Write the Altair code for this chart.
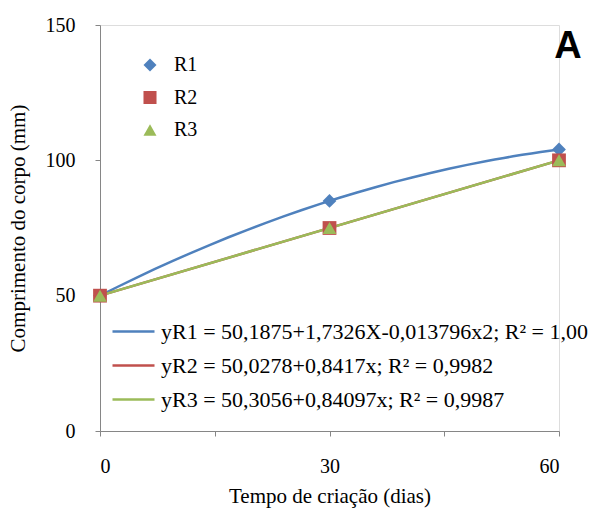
import altair as alt
import pandas as pd

dias = [0, 30, 60]
r1 = [50, 85, 104]
r2 = [50, 75, 100]
r3 = [50, 75, 100]
series = ["R1", "R2", "R3"]
equations = [
    "yR1 = 50,1875+1,7326X-0,013796x2; R² = 1,00",
    "yR2 = 50,0278+0,8417x; R² = 0,9982",
    "yR3 = 50,3056+0,84097x; R² = 0,9987",
]
colors = ["#4F81BD", "#C0504D", "#9BBB59"]
shapes = ["diamond", "square", "triangle-up"]

rows = []
for s, eq, vals in zip(series, equations, [r1, r2, r3]):
    for d, v in zip(dias, vals):
        rows.append({"dias": d, "comp": v, "serie": s, "eq": eq})
df = pd.DataFrame(rows)

FONT = "Liberation Serif"
GRAY = "#868686"
FS = 20

xscale = alt.Scale(domain=[0, 60], nice=False, zero=False)
yscale = alt.Scale(domain=[0, 150], nice=False)

xaxis = alt.Axis(values=[0, 15, 30, 45, 60], labelExpr="datum.value % 30 == 0 ? datum.label : ''",
                 title="Tempo de criação (dias)", grid=False, domainColor=GRAY, tickColor=GRAY,
                 tickSize=5, labelPadding=20, titlePadding=9, labelFont=FONT, titleFont=FONT,
                 labelFontSize=FS, titleFontSize=21, titleFontWeight="normal", labelColor="black",
                 titleColor="black")
yaxis = alt.Axis(values=[0, 50, 100, 150], title="Comprimento do corpo (mm)", grid=False,
                 domainColor=GRAY, tickColor=GRAY, tickSize=5, labelPadding=20, titlePadding=17,
                 labelFont=FONT, titleFont=FONT, labelFontSize=FS, titleFontSize=21,
                 titleFontWeight="normal", labelColor="black", titleColor="black")

stroke_scale = alt.Scale(domain=equations, range=colors)
line_legend = alt.Legend(title=None, orient="none", legendX=11, legendY=284, symbolType="stroke",
                         symbolSize=1764, symbolStrokeWidth=2.5, labelFont=FONT, labelFontSize=22,
                         labelColor="black", rowPadding=-9, labelOffset=5, labelLimit=0)

pt_legend = alt.Legend(title=None, orient="none", legendX=40, legendY=30,
                       labelFont=FONT, labelFontSize=FS, labelColor="black",
                       symbolSize=170, rowPadding=12.5, labelOffset=14)

base = alt.Chart(df)
X = alt.X("dias:Q", scale=xscale, axis=xaxis)
Y = alt.Y("comp:Q", scale=yscale, axis=yaxis)

poly = base.transform_filter(alt.datum.serie == "R1").transform_regression(
    "dias", "comp", method="poly", order=2, groupby=["serie", "eq"]
).mark_line(strokeWidth=2.5).encode(
    x=X, y=Y, stroke=alt.Stroke("eq:N", scale=stroke_scale, legend=line_legend),
)

lin = base.transform_filter(alt.datum.serie != "R1").transform_regression(
    "dias", "comp", method="linear", groupby=["serie", "eq"]
).mark_line(strokeWidth=2.5).encode(
    x=X, y=Y, stroke=alt.Stroke("eq:N", scale=stroke_scale, legend=line_legend),
)

pts = base.mark_point(filled=True, size=190, opacity=1).encode(
    x=X, y=Y,
    color=alt.Color("serie:N", scale=alt.Scale(domain=series, range=colors), legend=pt_legend),
    shape=alt.Shape("serie:N", scale=alt.Scale(domain=series, range=shapes), legend=pt_legend),
)

label = alt.Chart(pd.DataFrame({"t": ["A"]})).mark_text(
    font="Liberation Sans", fontSize=38, fontWeight="bold", color="black"
).encode(text="t:N", x=alt.value(468), y=alt.value(22))

chart = alt.layer(poly, lin, pts, label).properties(
    width=459, height=406,
    autosize=alt.AutoSizeParams(type="none"),
    padding={"left": 100, "top": 25, "right": 42, "bottom": 79},
).configure_view(stroke=None).configure(background="white")

chart.save("out.html", embed_options={"renderer": "svg", "actions": False})
